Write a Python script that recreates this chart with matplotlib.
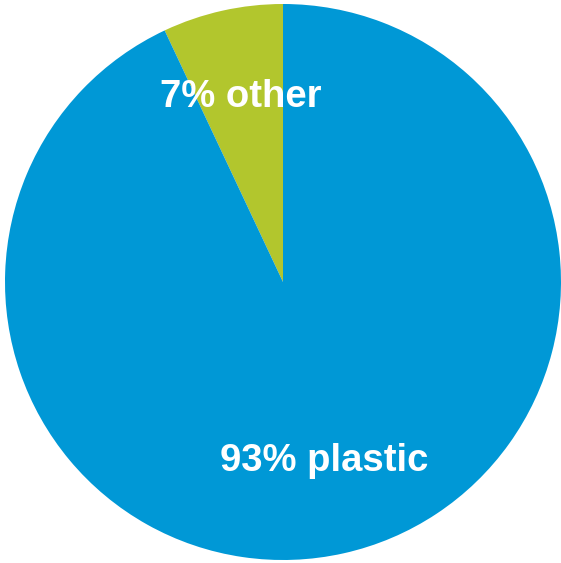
import matplotlib.pyplot as plt

labels = ['7% other', '93% plastic']
shares = [7, 93]
colors = ['#B2C62D', '#0098D6']
label_pos = [(-0.153, 0.664), (0.147, -0.645)]

fig = plt.figure(figsize=(5.61, 5.63), dpi=100)
ax = fig.add_axes([5 / 561, 3 / 563, 556 / 561, 556 / 563])

ax.pie(shares, colors=colors, startangle=90, counterclock=True,
       radius=1.0, wedgeprops={'linewidth': 0})
ax.set_xlim(-1, 1)
ax.set_ylim(-1, 1)
ax.set_aspect('auto')
ax.axis('off')

for lab, (x, y) in zip(labels, label_pos):
    ax.text(x, y, lab, ha='center', va='center', color='white',
            fontsize=27.5, fontweight='bold', family='Liberation Sans')

fig.savefig('out.png', dpi=100)
